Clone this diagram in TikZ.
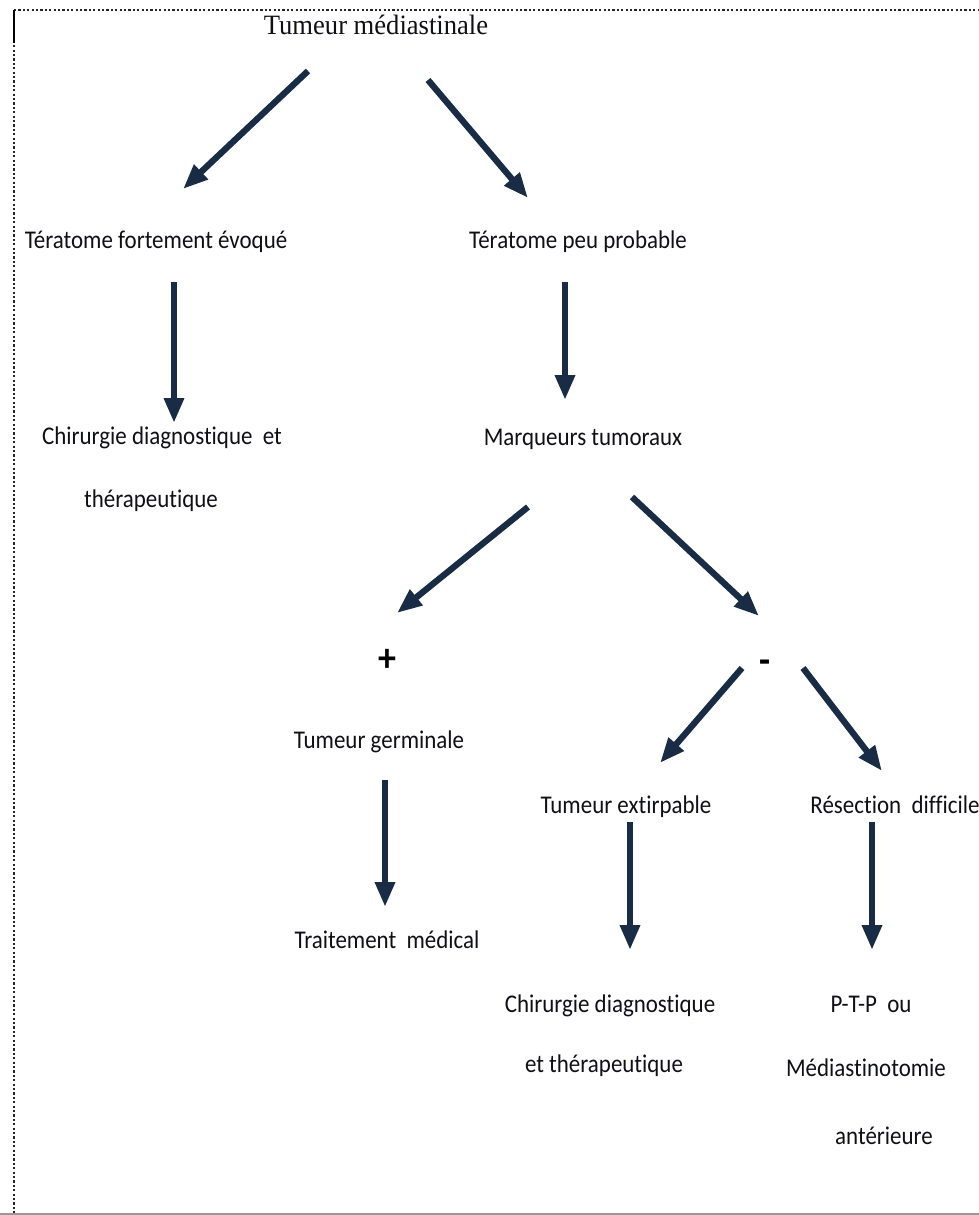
\documentclass[tikz,border=0pt]{standalone}
\usepackage{fontspec}
\setmainfont{Carlito}[FakeStretch=0.9, Ligatures=NoCommon]
\newfontfamily\titlefont{Liberation Serif}[FakeStretch=0.95]
\usetikzlibrary{arrows.meta}
\definecolor{arrowcol}{RGB}{24,44,70}
\definecolor{txtcol}{RGB}{15,15,22}
\tikzset{
  flow/.style={draw=arrowcol, line width=6.3pt, -{Triangle[length=25pt,width=19pt]}, shorten >=0pt},
  lbl/.style={anchor=base, inner sep=0pt, text=txtcol, font=\fontsize{25.5}{30}\selectfont},
  sign/.style={anchor=center, inner sep=0pt, text=black, font=\fontsize{40}{44}\selectfont\bfseries},
  frame/.style={draw=black!85, line width=2.4pt, dash pattern=on 2.2pt off 2.2pt}
}
\begin{document}
\begin{tikzpicture}[x=1pt,y=-1pt]
\useasboundingbox (0,0) rectangle (979,1215);
% frame
\draw[frame] (14,10) -- (979,10);
\draw[frame] (14,10) -- (14,1213);
\draw[black, line width=2.8pt] (14,10) -- (14,43);
\draw[black!40, line width=2pt] (0,1214) -- (979,1214);

% texts
\node[anchor=base, inner sep=0pt, text=txtcol, font=\titlefont\fontsize{28}{32}\selectfont] (title) at (376,35) {Tumeur médiastinale};
\node[lbl] (tfe) at (156,248) {Tératome fortement évoqué};
\node[lbl] (tpp) at (578,248) {Tératome peu probable};
\node[lbl] (chir1a) at (162,444) {Chirurgie diagnostique~ et};
\node[lbl] (chir1b) at (151,507) {thérapeutique};
\node[lbl] (marq) at (583,445) {Marqueurs tumoraux};
\node[sign] (plus) at (387,660) {+};
\node[sign] (minus) at (765,667) {-};
\node[lbl] (germ) at (379,748) {Tumeur germinale};
\node[lbl] (extir) at (626,813) {Tumeur extirpable};
\node[lbl] (resec) at (895,813) {Résection~ difficile};
\node[lbl] (trait) at (387,948) {Traitement~ médical};
\node[lbl] (chir2a) at (610,1012) {Chirurgie diagnostique};
\node[lbl] (chir2b) at (604,1072) {et thérapeutique};
\node[lbl] (ptp) at (871,1012) {P-T-P~ ou};
\node[lbl] (medi) at (866,1076) {Médiastinotomie};
\node[lbl] (ante) at (884,1144) {antérieure};

% arrow end points
\coordinate (a1s) at (308,71);  \coordinate (a1e) at (183,189);
\coordinate (a2s) at (428,80);  \coordinate (a2e) at (528,198);
\coordinate (a3s) at (174,282); \coordinate (a3e) at (174,423);
\coordinate (a4s) at (565,282); \coordinate (a4e) at (565,400);
\coordinate (a5s) at (528,507); \coordinate (a5e) at (397,613);
\coordinate (a6s) at (632,497); \coordinate (a6e) at (759,616);
\coordinate (a7s) at (742,668); \coordinate (a7e) at (660,763);
\coordinate (a8s) at (803,668); \coordinate (a8e) at (882,771);
\coordinate (a9s) at (385,780); \coordinate (a9e) at (385,907);
\coordinate (a10s) at (630,822); \coordinate (a10e) at (630,950);
\coordinate (a11s) at (872,822); \coordinate (a11e) at (872,950);

\draw[flow] (a1s) -- (a1e);
\draw[flow] (a2s) -- (a2e);
\draw[flow] (a3s) -- (a3e);
\draw[flow] (a4s) -- (a4e);
\draw[flow] (a5s) -- (a5e);
\draw[flow] (a6s) -- (a6e);
\draw[flow] (a7s) -- (a7e);
\draw[flow] (a8s) -- (a8e);
\draw[flow] (a9s) -- (a9e);
\draw[flow] (a10s) -- (a10e);
\draw[flow] (a11s) -- (a11e);
\end{tikzpicture}
\end{document}
